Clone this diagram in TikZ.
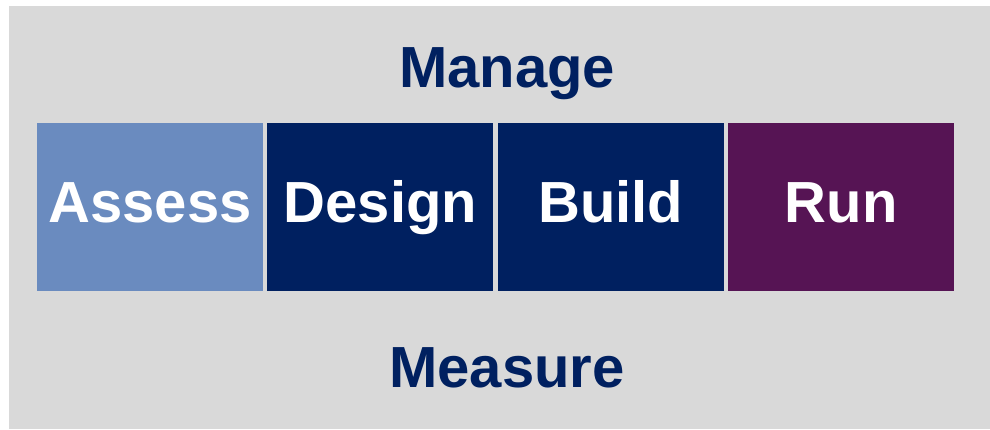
\documentclass[tikz,border=0pt]{standalone}
\usepackage{fontspec}
\setmainfont{Liberation Sans}
\usetikzlibrary{positioning}

\definecolor{bggray}{HTML}{D9D9D9}
\definecolor{navyblue}{HTML}{002060}
\definecolor{paleblue}{HTML}{6A8BBF}
\definecolor{plum}{HTML}{561454}

\begin{document}
\begin{tikzpicture}[x=1pt, y=1pt,
  phase/.style={minimum width=226pt, minimum height=168pt, inner sep=0pt, outer sep=0pt,
    text=white, text height=42pt, text depth=12pt, font=\bfseries\fontsize{58}{60}\selectfont},
  cycle/.style={anchor=base, inner sep=0pt, text=navyblue, font=\bfseries\fontsize{58}{60}\selectfont}]
  \useasboundingbox (0,0) rectangle (990,-429);
  \fill[bggray] (9,-6) rectangle (990,-429);

  \node[phase, fill=paleblue] (assess) at (150,-207) {Assess};
  \node[phase, fill=navyblue, right=4.4pt of assess] (design) {Design};
  \node[phase, fill=navyblue, right=4.4pt of design] (build) {Build};
  \node[phase, fill=plum, right=4.4pt of build] (run) {Run};

  \node[cycle] (manage) at (507,-87) {Manage};
  \node[cycle] (measure) at (507,-387) {Measure};
\end{tikzpicture}
\end{document}
